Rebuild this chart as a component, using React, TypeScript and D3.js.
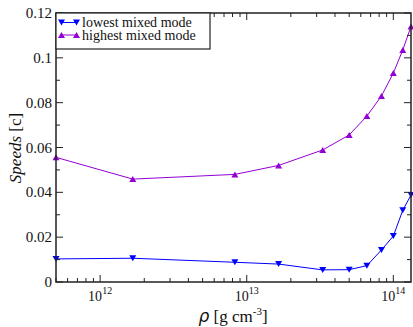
import React, { useEffect, useState } from "react";
import * as d3 from "d3";

const densities = [5.0e11, 1.67e12, 8.3e12, 1.65e13, 3.3e13, 5.0e13, 6.6e13, 8.3e13, 1.0e14, 1.16e14, 1.32e14];
const lowestMode = [0.0103, 0.0106, 0.0088, 0.008, 0.0054, 0.0055, 0.0073, 0.0143, 0.0205, 0.032, 0.0388];
const highestMode = [0.0556, 0.0459, 0.048, 0.052, 0.0589, 0.0656, 0.074, 0.083, 0.0932, 0.1035, 0.114];
const yTicks = [0, 0.02, 0.04, 0.06, 0.08, 0.1, 0.12];
const xDecades = [12, 13, 14];
const seriesNames = ["lowest mixed mode", "highest mixed mode"];

const W = 413, H = 327;
const m = { left: 56, right: 411, top: 13, bottom: 282 };
const SERIF = "Liberation Serif, Times New Roman, serif";

export default function App() {
  const [gen, setGen] = useState(0);
  useEffect(() => {
    let alive = true;
    const bump = () => { if (alive) setGen((g) => Math.min(g + 1, 3)); };
    const t1 = setTimeout(bump, 30);
    const fonts = (document as any).fonts;
    if (fonts && fonts.ready) fonts.ready.then(bump);
    return () => { alive = false; clearTimeout(t1); };
  }, []);
  const eps = gen * 0.01;

  const x = d3.scaleLog().domain([5.0e11, 1.32e14]).range([m.left, m.right]);
  const y = d3.scaleLinear().domain([0, 0.12]).range([m.bottom, m.top]);
  const line = d3.line<number>().x((_, i) => x(densities[i])).y((d) => y(d));

  const minorX: number[] = [];
  for (let e = 11; e <= 14; e++) {
    for (let k = 1; k <= 9; k++) {
      const v = k * Math.pow(10, e);
      if (v >= 5.0e11 && v <= 1.32e14) minorX.push(v);
    }
  }
  const minorY: number[] = [];
  for (let v = 0.01; v < 0.12; v += 0.02) minorY.push(v);

  const down = (cx: number, cy: number) => `M${cx - 3.5},${cy - 3}L${cx + 3.5},${cy - 3}L${cx},${cy + 3}Z`;
  const up = (cx: number, cy: number) => `M${cx - 3.5},${cy + 3}L${cx + 3.5},${cy + 3}L${cx},${cy - 3}Z`;

  const blue = "#0000ff";
  const purple = "#9400d3";
  const axisColor = "#222";

  return (
    <svg width={W} height={H} style={{ position: "absolute", left: 0, top: 0, background: "#fff" }}>
      <rect x={0} y={0} width={W} height={H} fill="#fff" />
      <path d={line(highestMode) || ""} fill="none" stroke={purple} strokeWidth={1} />
      <path d={line(lowestMode) || ""} fill="none" stroke={blue} strokeWidth={1} />
      {highestMode.map((v, i) => (
        <path key={"h" + i} d={up(x(densities[i]), y(v))} fill={purple} />
      ))}
      {lowestMode.map((v, i) => (
        <path key={"l" + i} d={down(x(densities[i]), y(v))} fill={blue} />
      ))}
      <rect x={m.left} y={m.top} width={m.right - m.left} height={m.bottom - m.top} fill="none" stroke={axisColor} strokeWidth={1.5} />
      {yTicks.map((t) => (
        <line key={"yt" + t} x1={m.left} x2={m.left + 7} y1={y(t)} y2={y(t)} stroke={axisColor} strokeWidth={1} />
      ))}
      {yTicks.map((t) => (
        <line key={"ytr" + t} x1={m.right} x2={m.right - 7} y1={y(t)} y2={y(t)} stroke={axisColor} strokeWidth={1} />
      ))}
      {minorY.map((t) => (
        <g key={"ym" + t}>
          <line x1={m.left} x2={m.left + 4} y1={y(t)} y2={y(t)} stroke={axisColor} strokeWidth={1} />
          <line x1={m.right} x2={m.right - 4} y1={y(t)} y2={y(t)} stroke={axisColor} strokeWidth={1} />
        </g>
      ))}
      {minorX.map((v) => {
        const major = Math.abs(Math.log10(v) - Math.round(Math.log10(v))) < 1e-9;
        const len = major ? 7 : 4;
        return (
          <g key={"xt" + v}>
            <line x1={x(v)} x2={x(v)} y1={m.bottom} y2={m.bottom - len} stroke={axisColor} strokeWidth={1} />
            <line x1={x(v)} x2={x(v)} y1={m.top} y2={m.top + len} stroke={axisColor} strokeWidth={1} />
          </g>
        );
      })}
      <rect x={m.left} y={m.top} width={154} height={36} fill="#fff" stroke={axisColor} strokeWidth={1.2} />
      <line x1={60} x2={78} y1={22.5} y2={22.5} stroke={blue} strokeWidth={1} />
      <path d={down(61.5, 22.5)} fill={blue} />
      <path d={down(76.5, 22.5)} fill={blue} />
      <line x1={60} x2={78} y1={35} y2={35} stroke={purple} strokeWidth={1} />
      <path d={up(61.5, 35)} fill={purple} />
      <path d={up(76.5, 35)} fill={purple} />
      <g key={"txt" + gen}>
        {yTicks.map((t) => (
          <text key={"yl" + t} x={m.left - 4} y={y(t) + 5} fontSize={15 + eps} textAnchor="end" fill="#111" fontFamily={SERIF}>{String(t)}</text>
        ))}
        {xDecades.map((e) => (
          <text key={"xl" + e} x={x(Math.pow(10, e))} y={301} fontSize={14 + eps} textAnchor="middle" fill="#111" fontFamily={SERIF}>
            10<tspan dy={-7} fontSize={10 + eps}>{String(e)}</tspan>
          </text>
        ))}
        <text x={233} y={322} fontSize={17 + eps} textAnchor="middle" fill="#111" fontFamily={SERIF}>
          <tspan fontFamily="DejaVu Sans" fontStyle="italic">ρ</tspan>
          <tspan> [g cm</tspan>
          <tspan dy={-7} fontSize={11 + eps}>-3</tspan>
          <tspan dy={7}>]</tspan>
        </text>
        <text transform={`translate(21,148) rotate(-90)`} fontSize={17 + eps} textAnchor="middle" fill="#111" fontFamily={SERIF}>
          <tspan fontStyle="italic">Speeds</tspan>
          <tspan> [c]</tspan>
        </text>
        <text x={82} y={27} fontSize={14 + eps} fill="#111" fontFamily={SERIF}>{seriesNames[0]}</text>
        <text x={82} y={40} fontSize={14 + eps} fill="#111" fontFamily={SERIF}>{seriesNames[1]}</text>
      </g>
    </svg>
  );
}
